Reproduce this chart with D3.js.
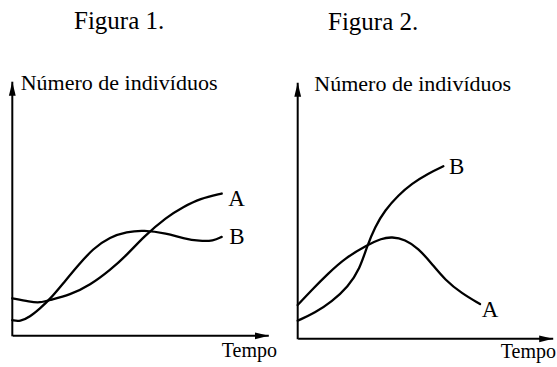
<!DOCTYPE html>
<html>
<head>
<meta charset="utf-8">
<script src="https://cdn.jsdelivr.net/npm/d3@7"></script>
<style>
  body { margin: 0; background: #fff; }
  svg { display: block; }
  text { font-family: "Liberation Serif", "Times New Roman", serif; fill: #000; }
</style>
</head>
<body>
<div id="chart"></div>
<script>
const figTitles = ['Figura 1.', 'Figura 2.'];
const yTitle = 'Número de indivíduos';
const xTitle = 'Tempo';
const seriesNames = ['A', 'B'];

// [tempo, indivíduos], both axes 0..10
const fig1A = [[0, 1.46], [0.69, 1.32], [1.08, 1.28], [1.47, 1.39], [2.25, 1.59], [3.04, 1.98], [3.82, 2.57],
  [4.47, 3.16], [5.12, 3.88], [6.03, 4.67], [6.68, 5.06], [7.33, 5.39], [8.18, 5.59]];
const fig1B = [[0, 0.6], [0.3, 0.54], [0.69, 0.73], [1.08, 1.06], [1.47, 1.42], [1.99, 2.05], [2.52, 2.7],
  [3.16, 3.43], [3.82, 3.88], [4.47, 4.08], [5.12, 4.15], [6.03, 4.02], [6.68, 3.82], [7.33, 3.71],
  [7.85, 3.72], [8.18, 3.88]];
const fig2A = [[0, 1.3], [0.55, 1.89], [1.2, 2.54], [1.85, 3.13], [2.71, 3.64], [3.29, 3.91], [3.69, 3.97],
  [4.21, 3.87], [4.73, 3.52], [5.25, 2.93], [5.78, 2.28], [6.43, 1.76], [7.15, 1.34]];
const fig2B = [[0, 0.69], [0.68, 1.0], [1.33, 1.43], [1.98, 2.02], [2.44, 2.73], [2.71, 3.58], [3.03, 4.36],
  [3.42, 5.01], [3.95, 5.6], [4.47, 6.05], [5.12, 6.45], [5.71, 6.73]];

const width = 557;
const height = 367;
const serif = '"Liberation Serif", "Times New Roman", serif';

const panels = [
  {
    title: figTitles[0], titleX: 74, titleY: 28.5,
    x0: 12.3, y0: 335.3, w: 256, h: 253.6,
    yTitleX: 20.7, yTitleY: 90, xTitleX: 221.7, xTitleY: 356.7,
    series: [fig1A, fig1B],
    labelOff: [[6.5, 12], [7.5, 7.5]]
  },
  {
    title: figTitles[1], titleX: 328, titleY: 30,
    x0: 297.7, y0: 338.3, w: 255, h: 255.6,
    yTitleX: 314.3, yTitleY: 90.5, xTitleX: 500.7, xTitleY: 358.3,
    series: [fig2A, fig2B],
    labelOff: [[1.8, 12.7], [5.8, 7.3]]
  }
];

const svg = d3.select('#chart').append('svg')
  .attr('width', width)
  .attr('height', height)
  .attr('viewBox', `0 0 ${width} ${height}`);

// arrow heads
svg.append('defs').append('marker')
  .attr('id', 'arrow')
  .attr('viewBox', '0 0 14 8')
  .attr('refX', 14)
  .attr('refY', 4)
  .attr('markerWidth', 14)
  .attr('markerHeight', 8)
  .attr('markerUnits', 'userSpaceOnUse')
  .attr('orient', 'auto')
  .append('path')
  .attr('d', 'M0,0.6 L14,4 L0,7.4 Z')
  .attr('fill', '#000');

panels.forEach(p => {
  const x = d3.scaleLinear().domain([0, 10]).range([p.x0, p.x0 + p.w]);
  const y = d3.scaleLinear().domain([0, 10]).range([p.y0, p.y0 - p.h]);
  const g = svg.append('g');

  g.append('text')
    .attr('x', p.titleX)
    .attr('y', p.titleY)
    .attr('font-family', serif)
    .style('font-size', '25px')
    .text(p.title);

  // axes: domain lines only, with arrows
  g.append('g')
    .attr('transform', `translate(0,${p.y0})`)
    .call(d3.axisBottom(x).tickValues([]).tickSizeOuter(0))
    .select('.domain')
    .attr('stroke', '#000')
    .attr('stroke-width', 2)
    .attr('marker-end', 'url(#arrow)');

  g.append('g')
    .attr('transform', `translate(${p.x0},0)`)
    .call(d3.axisLeft(y).tickValues([]).tickSizeOuter(0))
    .select('.domain')
    .attr('stroke', '#000')
    .attr('stroke-width', 2)
    .attr('d', `M0,${p.y0 + 1}V${p.y0 - p.h}`)
    .attr('marker-end', 'url(#arrow)');

  g.append('text')
    .attr('x', p.yTitleX)
    .attr('y', p.yTitleY)
    .attr('font-family', serif)
    .style('font-size', '22px')
    .text(yTitle);

  g.append('text')
    .attr('x', p.xTitleX)
    .attr('y', p.xTitleY)
    .attr('font-family', serif)
    .style('font-size', '20px')
    .text(xTitle);

  const line = d3.line()
    .x(d => x(d[0]))
    .y(d => y(d[1]))
    .curve(d3.curveBasis);

  p.series.forEach((s, i) => {
    g.append('path')
      .attr('d', line(s))
      .attr('fill', 'none')
      .attr('stroke', '#000')
      .attr('stroke-width', 2.3)
      .attr('stroke-linecap', 'round');

    const last = s[s.length - 1];
    g.append('text')
      .attr('x', x(last[0]) + p.labelOff[i][0])
      .attr('y', y(last[1]) + p.labelOff[i][1])
      .attr('font-family', serif)
      .style('font-size', '23px')
      .text(seriesNames[i]);
  });
});
</script>
</body>
</html>
